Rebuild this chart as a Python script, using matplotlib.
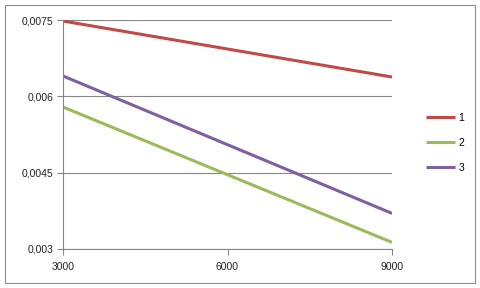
import matplotlib
matplotlib.use("Agg")
import matplotlib.pyplot as plt
from matplotlib.patches import Rectangle
from matplotlib.ticker import FixedLocator, FuncFormatter

x = [3000, 6000, 9000]
series_names = ["1", "2", "3"]
s1 = [0.00748, 0.00693, 0.00638]
s2 = [0.00579, 0.00446, 0.00313]
s3 = [0.00640, 0.00505, 0.00370]
yticks = [0.003, 0.0045, 0.006, 0.0075]
ytick_labels = ["0,003", "0,0045", "0,006", "0,0075"]
xticks = [3000, 6000, 9000]
colors = ["#BE4B48", "#9BBB59", "#7D60A0"]

plt.rcParams['font.family'] = ['Liberation Sans', 'DejaVu Sans']
fig = plt.figure(figsize=(4.8, 2.88), dpi=100)
fig.patches.append(Rectangle((5/480, 5/288), 470/480, 278/288, transform=fig.transFigure,
                             fill=False, edgecolor="#8c8c8c", linewidth=0.8))
ax = fig.add_axes([63/480, 1-249/288, (392-63)/480, (249-20)/288])

for vals, name, c in zip([s1, s2, s3], series_names, colors):
    ax.plot(x, vals, color=c, lw=2.2, label=name, solid_capstyle='butt')

ax.set_xlim(3000, 9000)
ax.set_ylim(0.003, 0.0075)
ax.yaxis.set_major_locator(FixedLocator(yticks))
ax.yaxis.set_major_formatter(FuncFormatter(lambda v, p: ytick_labels[yticks.index(min(yticks, key=lambda t: abs(t - v)))]))
ax.xaxis.set_major_locator(FixedLocator(xticks))
ax.grid(axis='y', color="#868686", lw=0.8)
ax.set_axisbelow(True)
for s in ["top", "right"]:
    ax.spines[s].set_visible(False)
for s in ["left", "bottom"]:
    ax.spines[s].set_color("#868686")
    ax.spines[s].set_linewidth(0.8)
ax.tick_params(axis='both', length=4, width=0.8, color="#868686", labelsize=7.5, labelcolor="#222222")
ax.tick_params(axis='y', pad=3)
ax.tick_params(axis='x', pad=5)

leg = ax.legend(loc='center left', bbox_to_anchor=(1.075, 0.463), frameon=False, fontsize=7.5,
                handlelength=2.8, handletextpad=0.3, labelspacing=1.45)

fig.savefig("out.png", dpi=100)
